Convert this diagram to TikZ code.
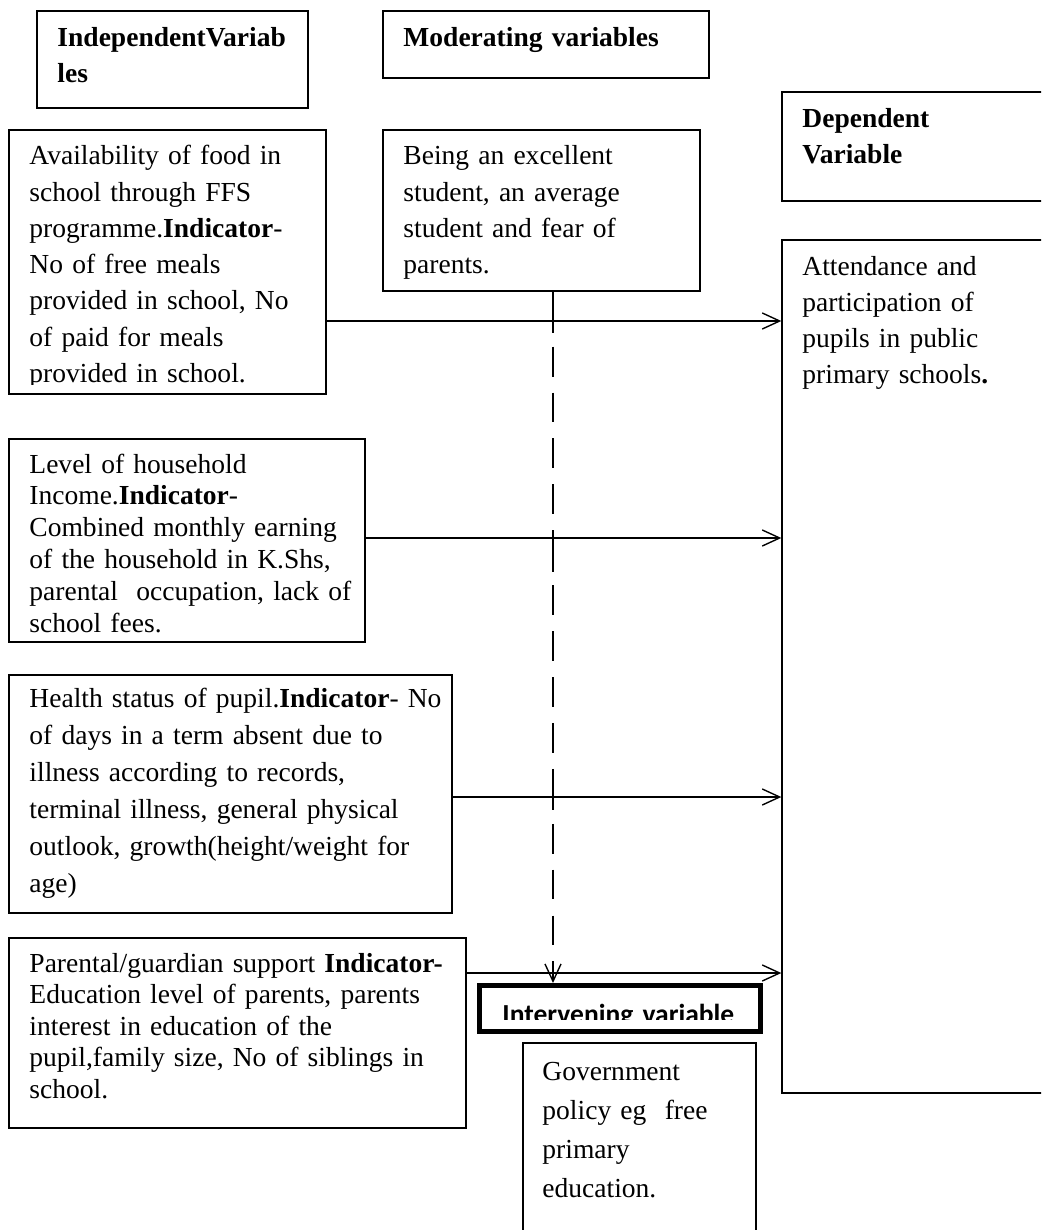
\documentclass[tikz,border=0pt]{standalone}
\usepackage{fontspec}
\setmainfont{Liberation Serif}
\newfontfamily\carlito{Carlito}
\usetikzlibrary{arrows.meta,fit}

\tikzset{
  box/.style={draw, line width=0.6pt, inner sep=0pt, fit={#1}},
  thickbox/.style={draw, line width=2.2pt, inner sep=0pt, fit={#1}},
  txt/.style={anchor=base west, inner sep=0pt, align=left, text width=480pt},
  conn/.style={line width=0.6pt, -{Straight Barb[length=7.6pt,width=7pt]}},
}

\begin{document}
\begin{tikzpicture}[x=0.436pt, y=-0.436pt]
\clip (0,0) rectangle (1041,1230);

% headings
\node[box={(37,11) (308,108)}] (ivhead) {};
\node[txt, font=\fontsize{12}{15.3}\selectfont\bfseries] (ivheadtxt) at (57,47)
{IndependentVariab\\les};
\node[box={(383,11) (709,78)}] (modhead) {};
\node[txt, font=\fontsize{12}{15.3}\selectfont\bfseries] (modheadtxt) at (403,47)
{Moderating variables};
\node[box={(782,92) (1070,201)}] (dephead) {};
\node[txt, font=\fontsize{12}{15.3}\selectfont\bfseries] (depheadtxt) at (802,128)
{Dependent\\Variable};

% independent variables
\node[box={(9,130) (326,394)}] (food) {};
\begin{scope}
\clip (9,130) rectangle (326,384);
\node[txt, font=\fontsize{12}{15.8}\selectfont] (foodtxt) at (29,165)
{Availability of food in\\school through FFS\\programme.\textbf{Indicator}-\\No of free meals\\provided in school, No\\of paid for meals\\provided in school.};
\end{scope}

\node[box={(9,439) (365,642)}] (income) {};
\node[txt, font=\fontsize{12}{13.9}\selectfont] (incometxt) at (29,473)
{Level of household\\Income.\textbf{Indicator}-\\Combined monthly earning\\of the household in K.Shs,\\parental\ \ occupation, lack of\\school fees.};

\node[box={(9,675) (452,913)}] (health) {};
\node[txt, font=\fontsize{12}{16.2}\selectfont] (healthtxt) at (29,707)
{Health status of pupil.\textbf{Indicator}- No\\of days in a term absent due to\\illness according to records,\\terminal illness, general physical\\outlook, growth(height/weight for\\age)};

\node[box={(9,938) (466,1128)}] (parent) {};
\node[txt, font=\fontsize{12}{13.8}\selectfont] (parenttxt) at (29,972)
{Parental/guardian support \textbf{Indicator-}\\Education level of parents, parents\\interest in education of the\\pupil,family size, No of siblings in\\school.};

% moderating variable
\node[box={(383,130) (700,291)}] (mod) {};
\node[txt, font=\fontsize{12}{15.8}\selectfont] (modtxt) at (403,165)
{Being an excellent\\student, an average\\student and fear of\\parents.};

% dependent variable
\node[box={(782,240) (1070,1093)}] (dep) {};
\node[txt, font=\fontsize{12}{15.7}\selectfont] (deptxt) at (802,275)
{Attendance and\\participation of\\pupils in public\\primary schools\textbf{.}};

% intervening variable
\node[thickbox={(479.5,985.5) (760.5,1031.5)}] (inter) {};
\begin{scope}
\clip (479,985) rectangle (761,1019);
\node[txt, font=\carlito\fontsize{12}{14}\selectfont\bfseries] (intertxt) at (502,1023)
{Intervening variable};
\end{scope}
\node[box={(523,1043) (756,1260)}] (gov) {};
\node[txt, font=\fontsize{12}{17.1}\selectfont] (govtxt) at (542,1080)
{Government\\policy eg\ \ free\\primary\\education.};

% connectors
\coordinate (yfood) at (0,321);
\coordinate (yincome) at (0,538);
\coordinate (yhealth) at (0,797);
\coordinate (yparent) at (0,973);
\coordinate (xmod) at (553,0);
\draw[conn] (food.east |- yfood) -- (dep.west |- yfood);
\draw[conn] (income.east |- yincome) -- (dep.west |- yincome);
\draw[conn] (health.east |- yhealth) -- (dep.west |- yhealth);
\draw[conn] (parent.east |- yparent) -- (dep.west |- yparent);
\draw[conn, dash pattern=on 18pt off 6pt on 13pt off 7pt on 13pt off 7pt on 13pt off 7pt on 13pt off 7pt]
  (mod.south -| xmod) -- (inter.north -| xmod);
\end{tikzpicture}
\end{document}
